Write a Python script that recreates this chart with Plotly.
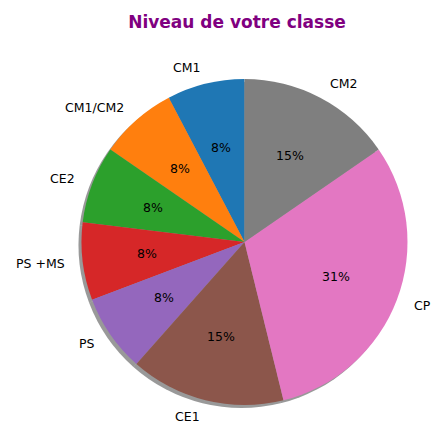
import math
import plotly.graph_objects as go

# class levels, in matplotlib order (start at 12 o'clock, counterclockwise)
niveaux = ['CM1', 'CM1/CM2', 'CE2', 'PS +MS', 'PS', 'CE1', 'CP', 'CM2']
effectifs = [1, 1, 1, 1, 1, 2, 4, 2]
couleurs = ['#1f77b4', '#ff7f0e', '#2ca02c', '#d62728',
            '#9467bd', '#8c564b', '#e377c2', '#7f7f7f']

W, H = 431, 424
cx, cy, r = 244.5, 242, 163


def px(x):
    return x / W


def py(y):
    return 1 - y / H


dom_x = [px(cx - r), px(cx + r)]
dom_y = [py(cy + r), py(cy - r)]

total = sum(effectifs)
# plotly puts the first slice clockwise of 12 o'clock when counterclockwise,
# so turn back by the first slice to start it at 12 o'clock like matplotlib
rot = -360 * effectifs[0] / total

fig = go.Figure()

# shadow (shifted a few px left and down, like matplotlib shadow=True)
fig.add_trace(go.Pie(
    labels=niveaux, values=effectifs, sort=False,
    direction='counterclockwise', rotation=rot,
    domain=dict(x=[px(cx - r - 3), px(cx + r - 3)],
                y=[py(cy + r + 3), py(cy - r + 3)]),
    marker=dict(colors=['rgba(0,0,0,0.4)'] * len(niveaux),
                line=dict(width=0)),
    textinfo='none', hoverinfo='skip', showlegend=False))

# the pie itself
fig.add_trace(go.Pie(
    labels=niveaux, values=effectifs, sort=False,
    direction='counterclockwise', rotation=rot,
    domain=dict(x=dom_x, y=dom_y),
    marker=dict(colors=couleurs, line=dict(width=0)),
    textinfo='none', showlegend=False))

# labels at 1.1 r and percentages at 0.6 r, placed like matplotlib does
cumul = 0
for nom, v in zip(niveaux, effectifs):
    mid = math.radians(90 + 360 * (cumul + v / 2) / total)
    cumul += v
    c, s = math.cos(mid), math.sin(mid)
    fig.add_annotation(
        x=px(cx + 1.1 * r * c), y=py(cy - 1.1 * r * s),
        xref='paper', yref='paper', text=nom, showarrow=False,
        xanchor='right' if c < 0 else 'left', yanchor='middle',
        font=dict(family='DejaVu Sans', size=12.5, color='black'))
    fig.add_annotation(
        x=px(cx + 0.6 * r * c), y=py(cy - 0.6 * r * s),
        xref='paper', yref='paper', text='%d%%' % round(100 * v / total),
        showarrow=False, xanchor='center', yanchor='middle',
        font=dict(family='DejaVu Sans', size=12.5, color='black'))

fig.update_layout(
    width=W, height=H,
    margin=dict(l=0, r=0, t=0, b=0),
    paper_bgcolor='white',
    title=dict(text='<b>Niveau de votre classe</b>',
               x=px(237), xanchor='center', y=py(22), yanchor='middle',
               font=dict(family='DejaVu Sans', size=17, color='purple')),
)

# drop the default 8px body margin so the figure fills the window
fig.write_html("out.html", config={'displayModeBar': False},
               post_script="document.body.style.margin = '0';")
